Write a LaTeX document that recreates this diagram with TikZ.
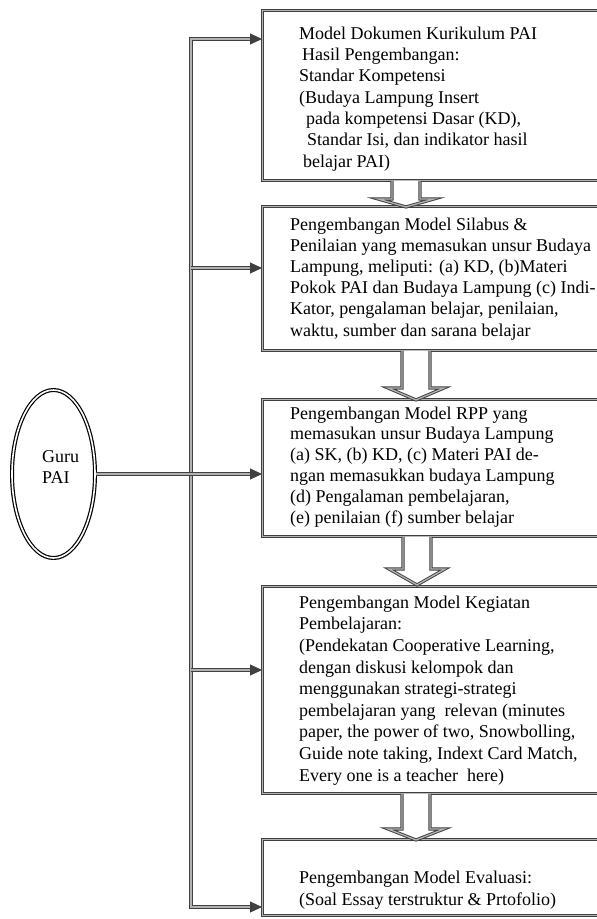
\documentclass[tikz,border=0pt]{standalone}
\usepackage{fontspec}
\setmainfont{Liberation Serif}
\usetikzlibrary{arrows.meta,shapes.geometric,calc}

\begin{document}
\begin{tikzpicture}[x=1pt,y=-1pt,
  rim/.style={draw=black!75, double=black!30, line width=0.95pt, double distance=1.3pt},
  stage/.style={rim, fill=white, rectangle, anchor=north west,
    minimum width=360pt, inner sep=0pt},
  % text blocks are placed by the baseline of their last line
  body/.style={anchor=base west, align=left, inner sep=0pt,
    font=\fontsize{18}{#1}\selectfont},
  body/.default=21.4,
  link/.style={rim, line join=miter, -{Triangle[length=12pt,width=11pt]}},
  flow/.style={rim, fill=white, line join=miter},
  pics/downarrow/.style 2 args={code={
    \draw[flow] (-14,0) -- (-14,#1) -- (-28,#1) -- (0,#1+#2)
      -- (28,#1) -- (14,#1) -- (14,0);}},
]
\useasboundingbox (0,0) rectangle (597,919);
\clip (0,0) rectangle (597,919);
\fill[white] (0,0) rectangle (597,919);

% stages of the model
\node[stage, minimum height=170pt] (b1) at (262,10) {};
\node[stage, minimum height=144pt] (b2) at (262,206) {};
\node[stage, minimum height=137pt] (b3) at (262,399) {};
\node[stage, minimum height=207pt] (b4) at (262,586) {};
\node[stage, minimum height=76pt]  (b5) at (262,839) {};

\node[body=21.3] (t1) at (299,167) {Model Dokumen Kurikulum PAI\\
  \hspace*{3pt}Hasil Pengembangan:\\
  Standar Kompetensi\\
  (Budaya Lampung Insert\\
  \hspace*{7pt}pada kompetensi Dasar (KD),\\
  \hspace*{8pt}Standar Isi, dan indikator hasil\\
  \hspace*{4pt}belajar PAI)};

\node[body=21.2] (t2) at (290,336) {Pengembangan Model Silabus \&\\
  Penilaian yang memasukan unsur Budaya\\
  Lampung, meliputi: (a) KD, (b)Materi\\
  Pokok PAI dan Budaya Lampung (c) Indi-\\
  Kator, pengalaman belajar, penilaian,\\
  waktu, sumber dan sarana belajar};

\node[body=20.8] (t3) at (290,523) {Pengembangan Model RPP yang\\
  memasukan unsur Budaya Lampung\\
  (a) SK, (b) KD, (c) Materi PAI de-\\
  ngan memasukkan budaya Lampung\\
  (d) Pengalaman pembelajaran,\\
  (e) penilaian (f) sumber belajar};

\node[body=21.6] (t4) at (299,781) {Pengembangan Model Kegiatan\\
  Pembelajaran:\\
  (Pendekatan Cooperative Learning,\\
  dengan diskusi kelompok dan\\
  menggunakan strategi-strategi\\
  pembelajaran yang\ \ relevan (minutes\\
  paper, the power of two, Snowbolling,\\
  Guide note taking, Indext Card Match,\\
  Every one is a teacher\ \ here)};

\node[body=22] (t5) at (299,905) {Pengembangan Model Evaluasi:\\
  (Soal Essay terstruktur \& Prtofolio)};

% hollow arrows between the stages
\pic at ($(b1.south west)+(144,0)$) {downarrow={18}{8}};
\pic at ($(b2.south west)+(154,0)$) {downarrow={37}{12}};
\pic at ($(b3.south west)+(155,0)$) {downarrow={32}{16}};
\pic at ($(b4.south west)+(154,0)$) {downarrow={35}{11}};

% distribution bus
\coordinate (bt) at (191,39);
\coordinate (bb) at (191,907);
\coordinate (j2) at (191,268);
\coordinate (j4) at (191,670);
\draw[link, {Triangle[length=12pt,width=11pt]}-{Triangle[length=12pt,width=11pt]}]
  (bt -| b1.west) -- (bt) -- (bb) -- (bb -| b5.west);
\draw[link] (j2) -- (j2 -| b2.west);
\draw[link] (j4) -- (j4 -| b4.west);

% teacher
\node[ellipse, draw=black, double=white, line width=1.2pt, double distance=1.6pt,
  minimum width=83pt, minimum height=168pt, inner sep=0pt] (guru) at (53.5,474) {};
\node[body=21] (gt) at (42,483) {Guru\\PAI};
\draw[link] (guru.east) -- (guru.east -| b3.west);
\end{tikzpicture}
\end{document}
